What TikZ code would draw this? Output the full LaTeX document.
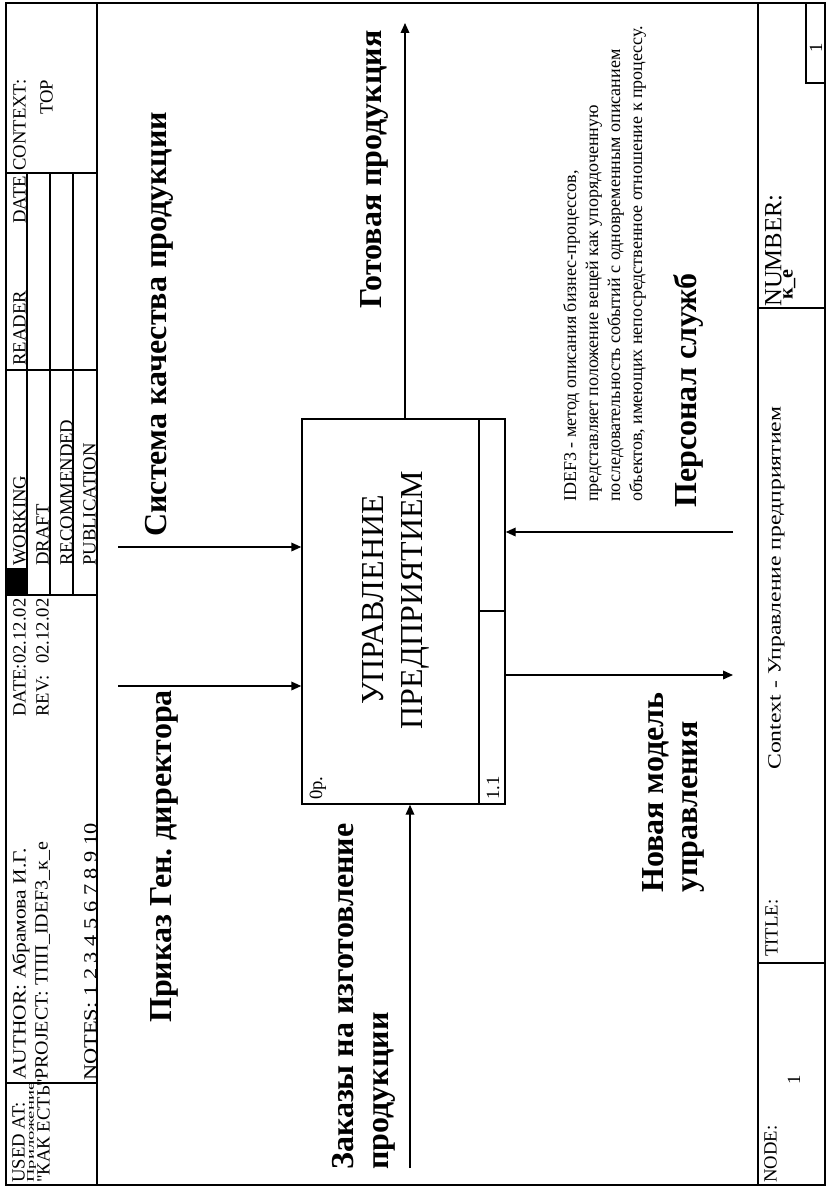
\documentclass[tikz,border=0pt]{standalone}
\usepackage{fontspec}
\usepackage{graphicx}
\setmainfont{Liberation Serif}
\newfontfamily\formfont{Liberation Serif}[Ligatures=TeXOff]
\usetikzlibrary{arrows.meta}
\frenchspacing
\begin{document}
\begin{tikzpicture}[x=0.75pt,y=-0.75pt,
  frm/.style={line width=1.1pt},
  arr/.style={line width=1.1pt,-{Triangle[length=7.5pt,width=6.5pt]}},
  hdr/.style={rotate=90,anchor=north west,inner sep=0pt,font=\formfont\fontsize{14}{16}\selectfont},
  small/.style={rotate=90,inner sep=0pt,font=\formfont\fontsize{14}{16}\selectfont},
  lbl/.style={rotate=90,anchor=north west,inner sep=0pt,align=left,font=\bfseries\fontsize{24}{26}\selectfont},
  note/.style={rotate=90,anchor=north west,inner sep=0pt,align=left,font=\fontsize{13.5}{16.5}\selectfont}]
\useasboundingbox (0,0) rectangle (826,1188);

% ---- form frame ----
\draw[frm] (6,3) rectangle (825,1185);
\draw[frm] (97,3) -- (97,1185);
\draw[frm] (758,3) -- (758,1185);
% header cells
\draw[frm] (6,173) -- (97,173);
\draw[frm] (6,370) -- (97,370);
\draw[frm] (6,595) -- (97,595);
\draw[frm] (6,1083) -- (97,1083);
\draw[frm] (27,173) -- (27,595);
\draw[frm] (50,173) -- (50,595);
\draw[frm] (73,173) -- (73,595);
\fill (6,568) rectangle (27,595);
% footer cells
\draw[frm] (758,308) -- (825,308);
\draw[frm] (758,963) -- (825,963);
\draw[frm] (806,3) -- (806,83) -- (825,83);

% ---- header texts ----
\node[hdr] (ctx) at (13,171) {CONTEXT:};
\node[hdr] (top) at (40,115) {TOP};
\node[hdr] (rdate) at (13,224) {DATE};
\node[hdr] (reader) at (13,366) {READER};
\node[hdr] (working) at (13,566) {WORKING};
\node[hdr] (draft) at (36,566) {DRAFT};
\node[hdr] (recom) at (60,566) {RECOMMENDED};
\node[hdr] (publ) at (83,566) {PUBLICATION};
\node[hdr] (date) at (13,717) {DATE:02.12.02};
\node[hdr] (rev) at (36,717) {\rlap{REV:}\hphantom{DATE:}02.12.02};
\node[hdr] (author) at (12,1080) {\scalebox{1.15}[1]{AUTHOR: Абрамова И.Г.}};
\node[hdr] (project) at (35,1080) {\scalebox{1.07}[1]{PROJECT: ТПП\_IDEF3\_к\_е}};
\node[hdr] (notes) at (84,1081) {\scalebox{1.2}[1]{NOTES: 1 2 3 4 5 6 7 8 9 10}};
\node[hdr] (used) at (12,1183) {USED AT:};
\node[hdr] (appx) at (27,1183) {\scalebox{1}[0.55]{Приложение}};
\node[hdr] (asis) at (37,1183) {"КАК ЕСТЬ"};

% ---- footer texts ----
\node[hdr] (nodelbl) at (764,1183) {NODE:};
\node[small] (nodenum) at (794,1080) {1};
\node[hdr] (titlelbl) at (765,957) {TITLE:};
\node[hdr] (titletxt) at (768,770) {\scalebox{1.27}[1]{Context - Управление предприятием}};
\node[hdr,font=\formfont\fontsize{18.5}{20}\selectfont] (numlbl) at (765,307) {NUMBER:};
\node[hdr,font=\formfont\bfseries\fontsize{15}{17}\selectfont] (numtxt) at (783,300) {к\_е};
\node[small] (pagenum) at (816,48) {1};

% ---- activity box ----
\node[draw,line width=1.1pt,minimum width=152.25pt,minimum height=288.75pt,inner sep=0pt] (box) at (403.5,611.5) {};
\coordinate (strip) at (479,611);
\draw[frm] (strip |- box.north) -- (strip |- box.south);
\draw[frm] (strip) -- (strip -| box.east);
\node[rotate=90,align=center,inner sep=0pt,font=\fontsize{24}{29}\selectfont] (boxtitle) at (396,600) {УПРАВЛЕНИЕ\\ПРЕДПРИЯТИЕМ};
\node[small] (cost) at (318,788) {0р.};
\node[small] (boxnum) at (493,788) {1.1};

% ---- arrows ----
\coordinate (outEnd) at (405,23);
\draw[arr] (outEnd |- box.north) -- (outEnd);
\coordinate (ctlA) at (118,547);
\draw[arr] (ctlA) -- (ctlA -| box.west);
\coordinate (ctlB) at (118,686);
\draw[arr] (ctlB) -- (ctlB -| box.west);
\coordinate (inStart) at (410,1168);
\draw[arr] (inStart) -- (inStart |- box.south);
\coordinate (mechStart) at (733,532);
\draw[arr] (mechStart) -- (mechStart -| box.east);
\coordinate (out2End) at (733,675);
\draw[arr] (out2End -| box.east) -- (out2End);

% ---- arrow labels ----
\node[lbl] (lblOut) at (360,309) {Готовая продукция};
\node[lbl] (lblCtlA) at (145,537) {Система качества продукции};
\node[lbl] (lblCtlB) at (150,1023) {Приказ Ген. директора};
\node[lbl] (lblIn) at (332,1170) {Заказы на изготовление\\продукции};
\node[lbl] (lblOut2) at (642,893) {Новая модель\\управления};
\node[lbl] (lblMech) at (673,508) {Персонал служб};

% ---- note ----
\node[note] (idef3) at (563,502) {IDEF3 - метод описания бизнес-процессов,\\представляет положение вещей как упорядоченную\\последовательность событий с одновременным описанием\\объектов, имеющих непосредственное отношение к процессу.};
\end{tikzpicture}
\end{document}
